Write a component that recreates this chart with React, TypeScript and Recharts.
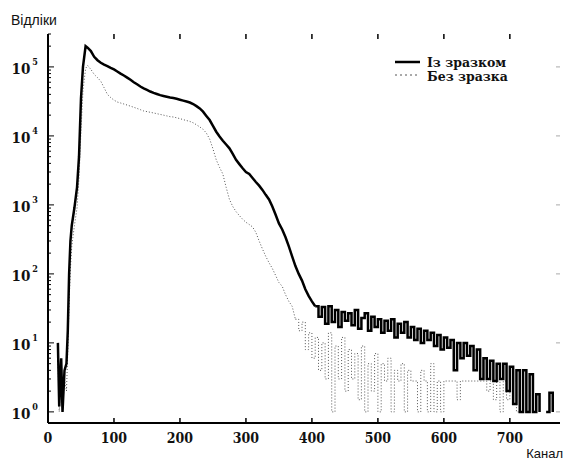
import { LineChart, Line, XAxis, YAxis } from 'recharts'

const channels = [
  15, 17, 20, 22, 25, 28, 30, 32, 34, 36, 40, 44, 47, 50, 53, 57, 60, 65,
  70, 75, 80, 85, 90, 95, 100,
  105, 110, 115, 120, 125, 130, 135, 140, 145, 150, 155, 160, 165, 170, 175, 180,
  185, 190, 195, 200, 205, 210, 215, 220, 225, 230, 235, 240, 245, 250, 255, 260,
  265, 270, 275, 280, 285, 290, 295, 300, 305, 310, 315, 320, 325, 330, 335, 340,
  345, 350, 355, 360, 365, 370, 375, 380, 385, 390, 395, 400, 405, 410, 415, 420,
  425, 430, 435, 440, 445, 450, 455, 460, 465, 470, 475, 480, 485, 490, 495, 500,
  505, 510, 515, 520, 525, 530, 535, 540, 545, 550, 555, 560, 565, 570, 575, 580,
  585, 590, 595, 600, 605, 610, 615, 620, 625, 630, 635, 640, 645, 650, 655, 660,
  665, 670, 675, 680, 685, 690, 695, 700, 705, 710, 715, 720, 725, 730, 735, 740,
  745, 750, 755, 760, 765,
]

// "Із зразком"
const withSample = [
  10, 1.2, 6, 1, 4, 5, 15, 100, 300, 500, 900, 1800, 5000, 35000, 100000, 200000, 190000, 170000,
  140000, 125000, 115000, 108000, 103000, 97000, 92000,
  86000, 80000, 75000, 70000, 65000, 60000, 56000, 52000, 49000, 46500, 44000, 42000, 40500, 39000, 38000, 37000,
  36000, 35500, 34500, 33500, 32500, 31500, 30500, 29000, 27000, 25000, 22500, 19500, 17000, 14000, 11500, 9800,
  8500, 7500, 6600, 5500, 4500, 3900, 3400, 3000, 2800, 2450, 2150, 1900, 1650, 1400, 1200, 950,
  720, 540, 440, 340, 250, 180, 130, 100, 80, 60, 48, 40, 34, 24, 33, 19,
  34, 20, 30, 17, 28, 21, 27, 18, 30, 16, 23, 27, 15, 24, 17, 22,
  14, 21, 15, 22, 12, 19, 14, 20, 12, 17, 11, 16, 10, 15, 11, 14,
  9, 13, 8, 12, 8.5, 11, 4, 10, 6, 10, 6.5, 9, 4, 8, 3, 6,
  3, 5.5, 2.8, 5, 3, 5, 2, 4.5, 1.3, 4, 1, 4, 1, 3.5, 1, 1.8,
  1, null, 1, 1.9, 1,
]

// "Без зразка"
const withoutSample = [
  6, 1, 3, 1, 3, 2, 8, 40, 120, 250, 500, 900, 2500, 12000, 45000, 95000, 105000, 92000,
  78000, 70000, 62000, 50000, 40000, 36000, 33000,
  31000, 30000, 29000, 28000, 27000, 26000, 25000, 24000, 23000, 22500, 22000, 21500, 21000, 20500, 20000, 19500,
  19000, 18800, 18300, 17800, 17200, 16700, 16200, 15500, 14500, 13500, 12500, 11000, 9000, 6500, 4500, 3500,
  2800, 1800, 1200, 950, 800, 700, 620, 560, 520, 480, 400, 300, 230, 180, 145, 120,
  95, 75, 66, 50, 40, 34, 22, 15, 20, 8, 14, 6, 12, 4, 10, 3,
  14, 1, 9, 3, 12, 2, 8, 3, 7, 1.5, 9, 1, 5, 2, 7, 1,
  5, 2.8, 6, 1, 4, 2.8, 5, 1, 4, 2.8, 2.8, 1, 4, 2.8, 1, 5,
  1, 2.8, 1, 2.8, 2.8, 2.8, 2.8, 1.5, 2.8, 2.8, 2.8, 2.8, 2.8, 2.8, 2.8, 2.8,
  2, 2.8, 1.5, 2.8, 1, 2.8, 1.5, 2.8, 2.8, 1, 2.8, 2.8, 2.8, null, null, null,
  null, null, null, null, null,
]

// channel where the noisy tail (drawn as steps) begins
const tailStartA = 405
const tailStartB = 375

const xTicks = [0, 100, 200, 300, 400, 500, 600, 700]
const decades = [0, 1, 2, 3, 4, 5]

const W = 563
const H = 462
const PLOT_LEFT = 48
const PLOT_RIGHT = 560
const PLOT_TOP = 34
const PLOT_BOTTOM = 423

const data = channels.map((ch, i) => ({
  ch,
  a: ch <= tailStartA ? withSample[i] : null,
  aTail: ch >= tailStartA ? withSample[i] : null,
  b: ch <= tailStartB ? withoutSample[i] : null,
  bTail: ch >= tailStartB ? withoutSample[i] : null,
}))

const yTicks: number[] = []
decades.forEach((d) => {
  for (let m = 1; m <= 9; m++) {
    const v = m * Math.pow(10, d)
    if (v <= 300000) yTicks.push(v)
  }
})

const tickFont = "'DejaVu Serif Condensed', 'DejaVu Serif', serif"

function YTick(props: any) {
  const { y, payload } = props
  const v = payload.value as number
  const exp = Math.round(Math.log10(v))
  const major = Math.abs(v - Math.pow(10, exp)) < 1e-6 * v
  return (
    <g>
      <line x1={PLOT_LEFT} x2={PLOT_LEFT + (major ? 6 : 3)} y1={y} y2={y} stroke="#000" strokeWidth={1} />
      {major && (
        <line x1={PLOT_RIGHT - 4} x2={PLOT_RIGHT} y1={y} y2={y} stroke="#aaa" strokeWidth={1} />
      )}
      {major && (
        <text
          x={38}
          y={y + 7}
          textAnchor="end"
          fontFamily={tickFont}
          fontWeight="bold"
          fontSize={15}
          fill="#111"
        >
          10
          <tspan dy={-9} fontSize={9} dx={2}>
            {exp}
          </tspan>
        </text>
      )}
    </g>
  )
}

function XTick(props: any) {
  const { x, payload } = props
  return (
    <g>
      <line x1={x} x2={x} y1={PLOT_BOTTOM} y2={PLOT_BOTTOM - 5} stroke="#000" strokeWidth={1.5} />
      <line x1={x} x2={x} y1={PLOT_TOP} y2={PLOT_TOP + 5} stroke="#000" strokeWidth={1.5} />
      <text
        x={x}
        y={443}
        textAnchor="middle"
        fontFamily={tickFont}
        fontWeight="bold"
        fontSize={14}
        fill="#111"
      >
        {payload.value}
      </text>
    </g>
  )
}

export default function App() {
  return (
    <div style={{ position: 'absolute', left: 0, top: 0, width: W, height: H, background: '#fff' }}>
      <LineChart
        width={W}
        height={H}
        data={data}
        margin={{ top: PLOT_TOP, right: W - PLOT_RIGHT, bottom: H - PLOT_BOTTOM - 30, left: PLOT_LEFT - 40 }}
      >
        <XAxis
          dataKey="ch"
          type="number"
          domain={[0, 776]}
          ticks={xTicks}
          height={30}
          axisLine={{ stroke: '#000', strokeWidth: 2 }}
          tickLine={false}
          tick={<XTick />}
          allowDataOverflow
        />
        <XAxis
          xAxisId="top"
          orientation="top"
          dataKey="ch"
          type="number"
          domain={[0, 776]}
          height={0}
          axisLine={{ stroke: '#000', strokeWidth: 1.5 }}
          tickLine={false}
          tick={false}
        />
        <YAxis
          type="number"
          scale="log"
          domain={[0.69, 300000]}
          ticks={yTicks}
          interval={0}
          width={40}
          allowDataOverflow
          axisLine={{ stroke: '#000', strokeWidth: 2 }}
          tickLine={false}
          tick={<YTick />}
        />
        <Line dataKey="b" type="linear" stroke="#555" strokeWidth={1} strokeDasharray="1 2" dot={false} isAnimationActive={false} />
        <Line dataKey="bTail" type="stepAfter" stroke="#555" strokeWidth={1} strokeDasharray="1 2" dot={false} isAnimationActive={false} />
        <Line dataKey="a" type="linear" stroke="#000" strokeWidth={2.5} dot={false} isAnimationActive={false} />
        <Line dataKey="aTail" type="stepAfter" stroke="#000" strokeWidth={2.5} dot={false} isAnimationActive={false} />
      </LineChart>

      <div
        style={{
          position: 'absolute',
          left: 11,
          top: 12,
          fontFamily: "'Liberation Sans', Arial, sans-serif",
          fontSize: 14,
          color: '#111',
          lineHeight: '16px',
        }}
      >
        Відліки
      </div>
      <div
        style={{
          position: 'absolute',
          right: 0,
          top: 446,
          fontFamily: "'Liberation Sans', Arial, sans-serif",
          fontSize: 13,
          color: '#111',
          lineHeight: '15px',
        }}
      >
        Канал
      </div>

      <svg style={{ position: 'absolute', left: 0, top: 0 }} width={W} height={H} pointerEvents="none">
        <line x1={395} x2={420} y1={62} y2={62} stroke="#000" strokeWidth={2.5} />
        <line x1={395} x2={420} y1={75} y2={75} stroke="#555" strokeWidth={1} strokeDasharray="2 3" />
        <text x={427} y={67} fontFamily="'DejaVu Serif', serif" fontWeight="bold" fontSize={12.5} fill="#111">
          Із зразком
        </text>
        <text x={427} y={81} fontFamily="'DejaVu Serif', serif" fontWeight="bold" fontSize={12.5} fill="#111">
          Без зразка
        </text>
      </svg>
    </div>
  )
}
